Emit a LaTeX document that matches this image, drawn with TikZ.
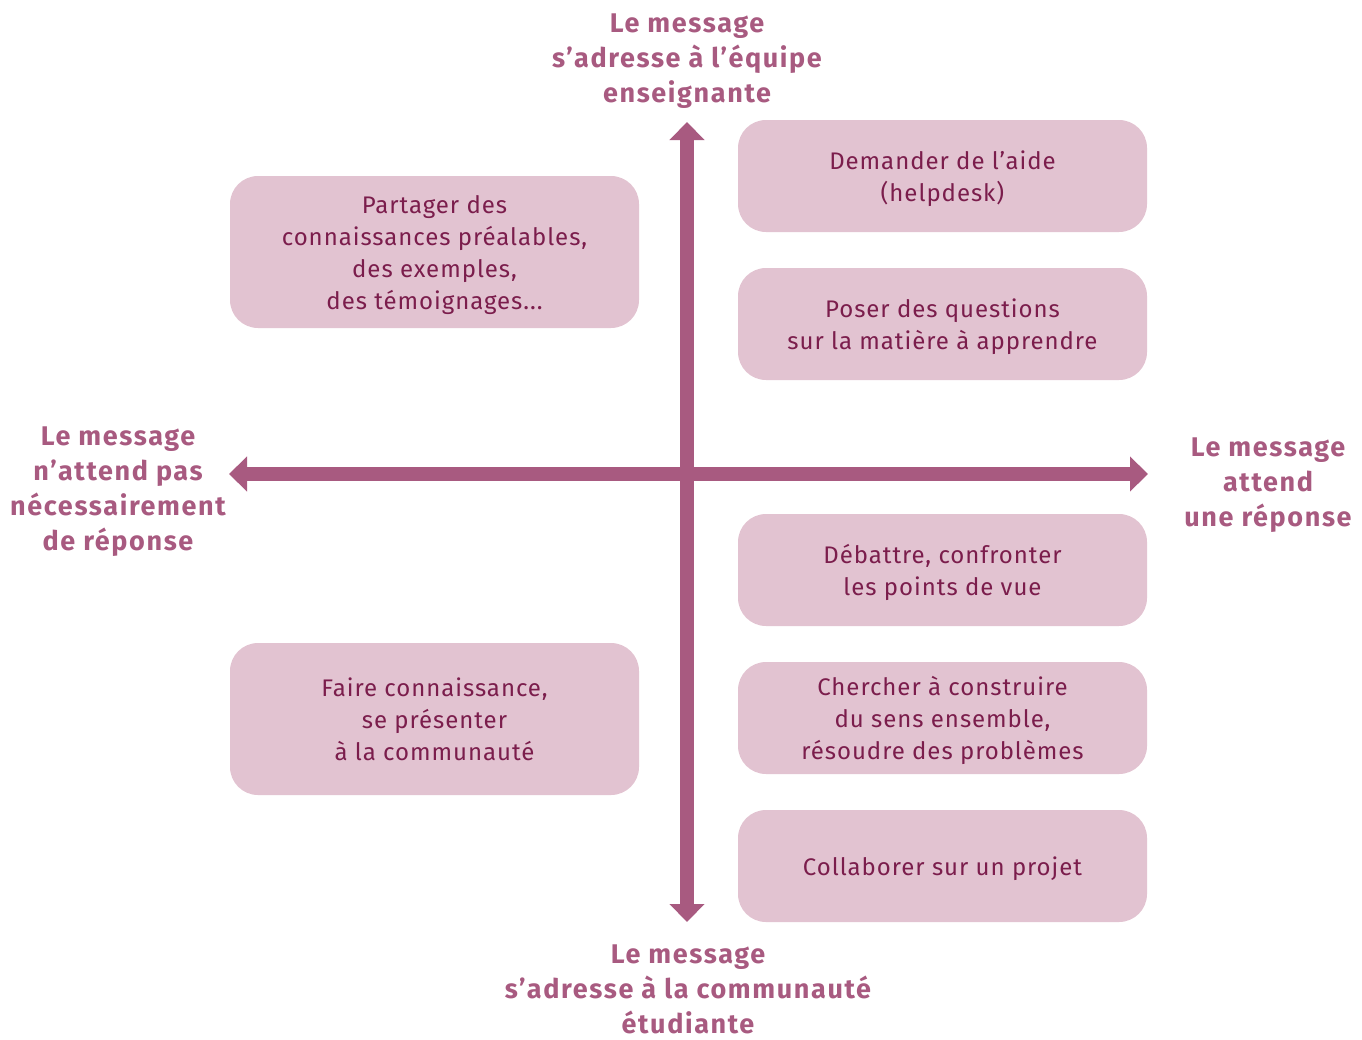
\documentclass[tikz,border=0pt]{standalone}
\usepackage{fontspec}
\setmainfont{Fira Sans}[LetterSpace=4]
\newfontfamily\axisfont{Fira Sans}[LetterSpace=6]
\usetikzlibrary{arrows.meta}
\definecolor{axiscol}{HTML}{A85A80}
\definecolor{boxfill}{HTML}{E2C3D1}
\definecolor{boxtext}{HTML}{7B1D4C}
\newcommand\boxlines[1]{\raisebox{-3pt}[\height][\depth]{\begin{tabular}{@{}c@{}}#1\end{tabular}}}
\tikzset{
  box/.style={fill=boxfill, draw=none, rounded corners=28pt, minimum width=409pt, minimum height=112pt,
    text=boxtext, font=\fontsize{24}{32}\selectfont, inner sep=0pt},
  tallbox/.style={box, minimum height=152pt},
  axislabel/.style={align=center, text=axiscol, font=\axisfont\bfseries\fontsize{27}{35}\selectfont, inner sep=0pt},
  axisline/.style={draw=axiscol, line width=14pt, {Triangle[width=34pt,length=18pt]}-{Triangle[width=34pt,length=18pt]}}
}
\begin{document}
\begin{tikzpicture}[x=1pt,y=-1pt]
\useasboundingbox (0,0) rectangle (1362,1039);
% boxes right
\node[box] (b1) at (942.5,176) {\boxlines{Demander de l’aide\\(helpdesk)}};
\node[box] (b2) at (942.5,324) {\boxlines{Poser des questions\\sur la matière à apprendre}};
\node[box] (b3) at (942.5,570) {\boxlines{Débattre, confronter\\les points de vue}};
\node[box] (b4) at (942.5,718) {\boxlines{Chercher à construire\\du sens ensemble,\\résoudre des problèmes}};
\node[box] (b5) at (942.5,866) {\boxlines{Collaborer sur un projet}};
% boxes left
\node[tallbox] (l1) at (434.5,252) {\boxlines{Partager des\\connaissances préalables,\\des exemples,\\des témoignages...}};
\node[tallbox] (l2) at (434.5,719) {\boxlines{Faire connaissance,\\se présenter\\à la communauté}};
% axes
\coordinate (top) at (687,122);
\coordinate (bot) at (687,922);
\coordinate (left) at (229,474);
\coordinate (right) at (1148,474);
\draw[axisline] (bot) -- (top);
\draw[axisline] (left) -- (right);
% axis labels
\node[axislabel] (lt) at (687,61) {Le message\\s’adresse à l’équipe\\enseignante};
\node[axislabel] (lb) at (688,989) {Le message\\s’adresse à la communauté\\étudiante};
\node[axislabel] (ll) at (118,492) {Le message\\n’attend pas\\nécessairement\\de réponse};
\node[axislabel] (lr) at (1268,485) {Le message\\attend\\une réponse};
\end{tikzpicture}
\end{document}
